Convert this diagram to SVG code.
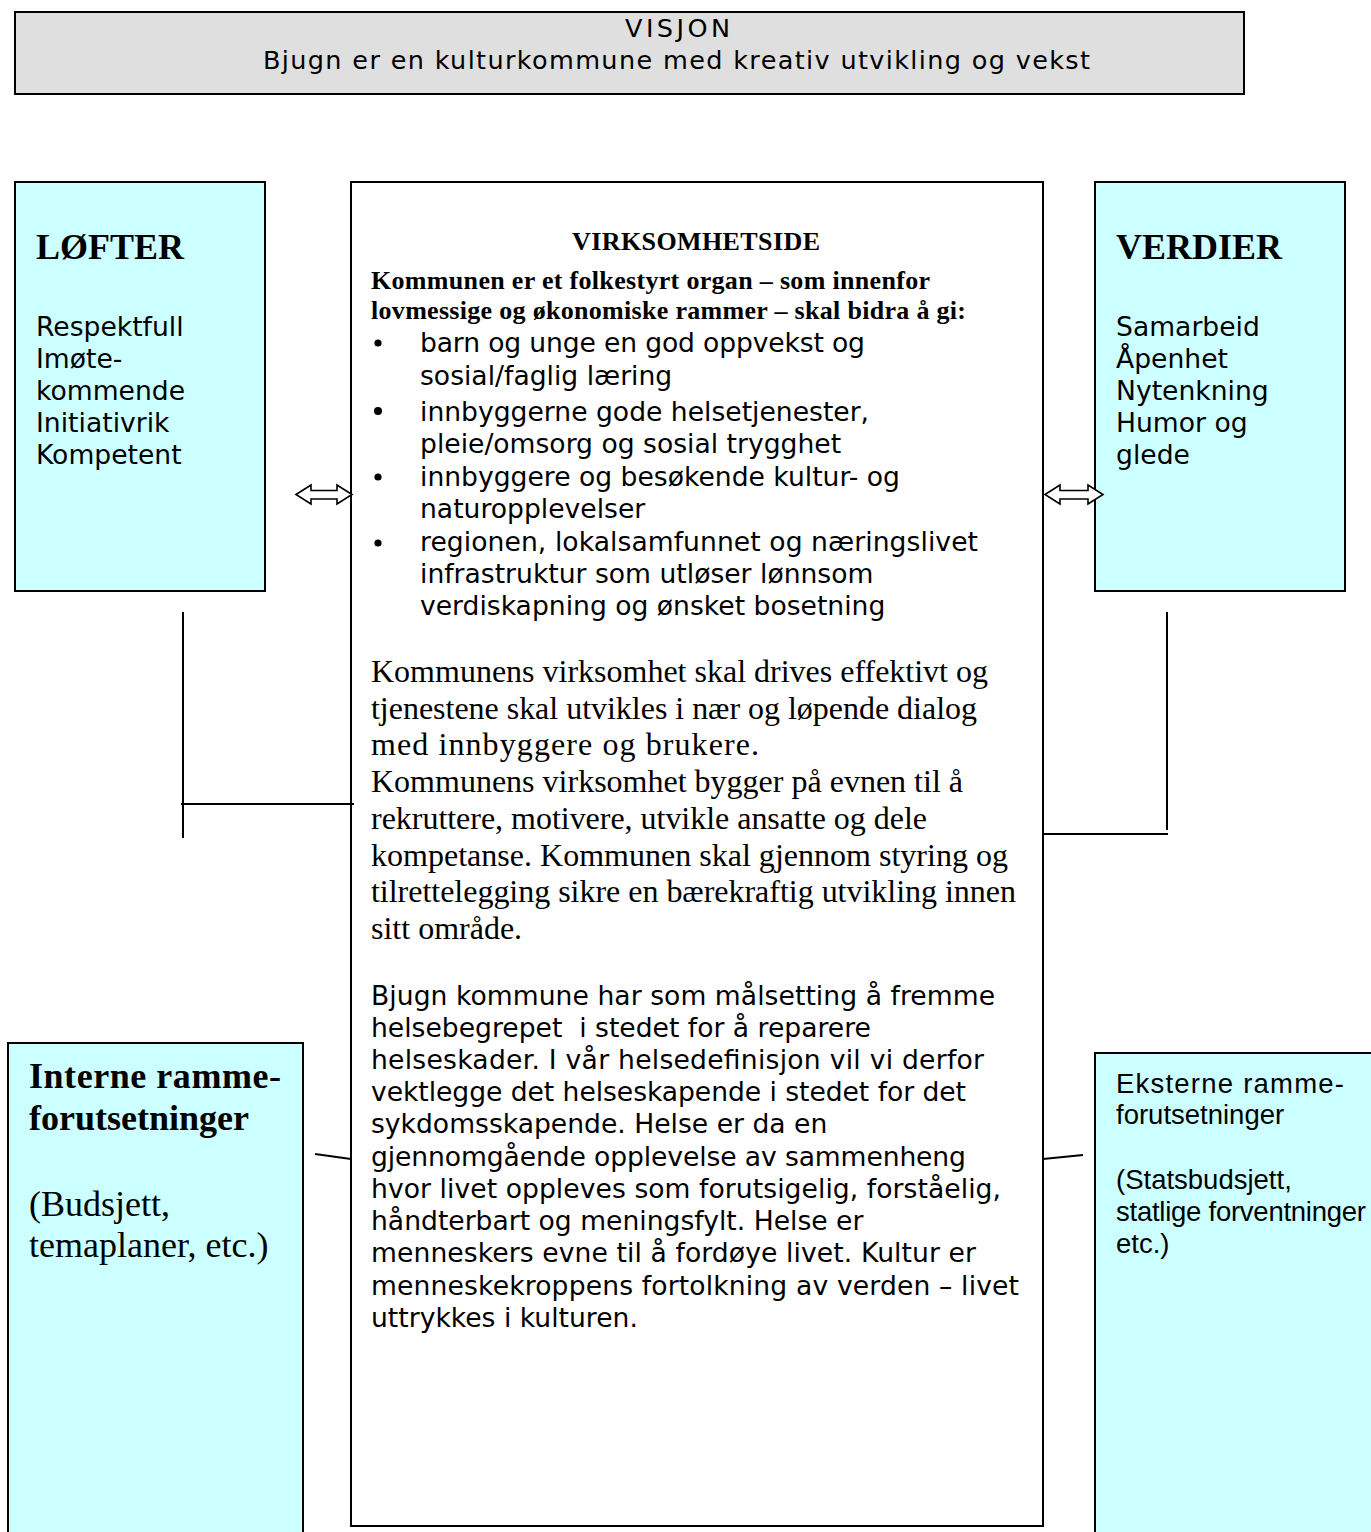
<svg xmlns="http://www.w3.org/2000/svg" width="1371" height="1532" viewBox="0 0 1371 1532">
<style>
.box{stroke:#000;stroke-width:2}
.cyan{fill:#ccffff}
.sans{font-family:"DejaVu Sans","Verdana",sans-serif;fill:#000}
.ar{font-family:"Liberation Sans",Arial,sans-serif;fill:#000}
.serif{font-family:"Liberation Serif","Times New Roman",serif;fill:#000}
.b{font-weight:bold}
.ln{stroke:#000;stroke-width:2;fill:none}
.arrow{fill:#fff;stroke:#000;stroke-width:1.6;stroke-linejoin:miter}
</style>
<rect width="1371" height="1532" fill="#fff"/>

<g id="visjon">
<rect class="box" x="15" y="12" width="1229" height="82" fill="#dfdfdf"/>
<text class="sans" x="625" y="37" font-size="25.5" textLength="105">VISJON</text>
<text class="sans" x="263" y="69" font-size="25.5" textLength="827">Bjugn er en kulturkommune med kreativ utvikling og vekst</text>
</g>

<g id="lofter">
<rect class="box cyan" x="15" y="182" width="250" height="409"/>
<text class="serif b" x="36" y="259" font-size="36">LØFTER</text>
<g class="sans" font-size="26.6">
<text x="36" y="336">Respektfull</text>
<text x="36" y="368">Imøte-</text>
<text x="36" y="400">kommende</text>
<text x="36" y="432">Initiativrik</text>
<text x="36" y="464">Kompetent</text>
</g>
</g>

<g id="verdier">
<rect class="box cyan" x="1095" y="182" width="250" height="409"/>
<text class="serif b" x="1116" y="259" font-size="36">VERDIER</text>
<g class="sans" font-size="26.6">
<text x="1116" y="336">Samarbeid</text>
<text x="1116" y="368">Åpenhet</text>
<text x="1116" y="400">Nytenkning</text>
<text x="1116" y="432">Humor og</text>
<text x="1116" y="464">glede</text>
</g>
</g>

<g id="virksomhetside">
<rect class="box" x="351" y="182" width="692" height="1344" fill="#fff"/>
<text class="serif b" x="696" y="250" font-size="26" text-anchor="middle" textLength="248">VIRKSOMHETSIDE</text>
<text class="serif b" x="371" y="289" font-size="26" textLength="559">Kommunen er et folkestyrt organ – som innenfor</text>
<text class="serif b" x="371" y="319" font-size="26" textLength="595">lovmessige og økonomiske rammer – skal bidra å gi:</text>
<g fill="#000">
<circle cx="378" cy="343" r="3.6"/>
<circle cx="378" cy="411" r="4"/>
<circle cx="378" cy="477" r="3.6"/>
<circle cx="378" cy="543" r="3.6"/>
</g>
<g class="sans" font-size="26.6">
<text x="420" y="352" textLength="445">barn og unge en god oppvekst og</text>
<text x="420" y="385">sosial/faglig læring</text>
<text x="420" y="421">innbyggerne gode helsetjenester,</text>
<text x="420" y="453">pleie/omsorg og sosial trygghet</text>
<text x="420" y="486">innbyggere og besøkende kultur- og</text>
<text x="420" y="518">naturopplevelser</text>
<text x="420" y="551" textLength="558">regionen, lokalsamfunnet og næringslivet</text>
<text x="420" y="583">infrastruktur som utløser lønnsom</text>
<text x="420" y="615">verdiskapning og ønsket bosetning</text>
</g>
<g class="serif" font-size="32">
<text x="371" y="682" textLength="617">Kommunens virksomhet skal drives effektivt og</text>
<text x="371" y="719" textLength="606">tjenestene skal utvikles i nær og løpende dialog</text>
<text x="371" y="755" textLength="388">med innbyggere og brukere.</text>
<text x="371" y="792" textLength="592">Kommunens virksomhet bygger på evnen til å</text>
<text x="371" y="829" textLength="556">rekruttere, motivere, utvikle ansatte og dele</text>
<text x="371" y="866" textLength="637">kompetanse. Kommunen skal gjennom styring og</text>
<text x="371" y="902" textLength="645">tilrettelegging sikre en bærekraftig utvikling innen</text>
<text x="371" y="939">sitt område.</text>
</g>
<g class="sans" font-size="26.6">
<text x="371" y="1005" textLength="624">Bjugn kommune har som målsetting å fremme</text>
<text x="371" y="1037" xml:space="preserve">helsebegrepet  i stedet for å reparere</text>
<text x="371" y="1069" textLength="613">helseskader. I vår helsedefinisjon vil vi derfor</text>
<text x="371" y="1101" textLength="595">vektlegge det helseskapende i stedet for det</text>
<text x="371" y="1133">sykdomsskapende. Helse er da en</text>
<text x="371" y="1166" textLength="595">gjennomgående opplevelse av sammenheng</text>
<text x="371" y="1198" textLength="630">hvor livet oppleves som forutsigelig, forståelig,</text>
<text x="371" y="1230">håndterbart og meningsfylt. Helse er</text>
<text x="371" y="1262" textLength="605">menneskers evne til å fordøye livet. Kultur er</text>
<text x="371" y="1295" textLength="648">menneskekroppens fortolkning av verden – livet</text>
<text x="371" y="1327">uttrykkes i kulturen.</text>
</g>
</g>

<g id="interne">
<rect class="box cyan" x="8" y="1043" width="295" height="500"/>
<text class="serif b" x="29" y="1088" font-size="36" textLength="252">Interne ramme-</text>
<text class="serif b" x="29" y="1130" font-size="36">forutsetninger</text>
<text class="serif" x="29" y="1216" font-size="36">(Budsjett,</text>
<text class="serif" x="29" y="1257" font-size="36">temaplaner, etc.)</text>
</g>

<g id="eksterne">
<rect class="box cyan" x="1095" y="1053" width="290" height="500"/>
<g class="ar" font-size="27.5">
<text x="1116" y="1093" textLength="228">Eksterne ramme-</text>
<text x="1116" y="1124">forutsetninger</text>
<text x="1116" y="1189">(Statsbudsjett,</text>
<text x="1116" y="1221" textLength="250">statlige forventninger</text>
<text x="1116" y="1253">etc.)</text>
</g>
</g>

<g id="connectors">
<polygon class="arrow" points="296,494.5 311,485 311,490.5 337,490.5 337,485 352,494.5 337,504 337,499 311,499 311,504"/>
<polygon class="arrow" points="1045,494.5 1060,485 1060,490.5 1088,490.5 1088,485 1103,494.5 1088,504 1088,499 1060,499 1060,504"/>
<line class="ln" x1="183" y1="612" x2="183" y2="838"/>
<line class="ln" x1="181" y1="804" x2="354" y2="804"/>
<line class="ln" x1="1167" y1="612" x2="1167" y2="830"/>
<line class="ln" x1="1043" y1="834" x2="1168" y2="834"/>
<line class="ln" x1="315" y1="1154" x2="351" y2="1159"/>
<line class="ln" x1="1043" y1="1159" x2="1083" y2="1155"/>
</g>
</svg>
